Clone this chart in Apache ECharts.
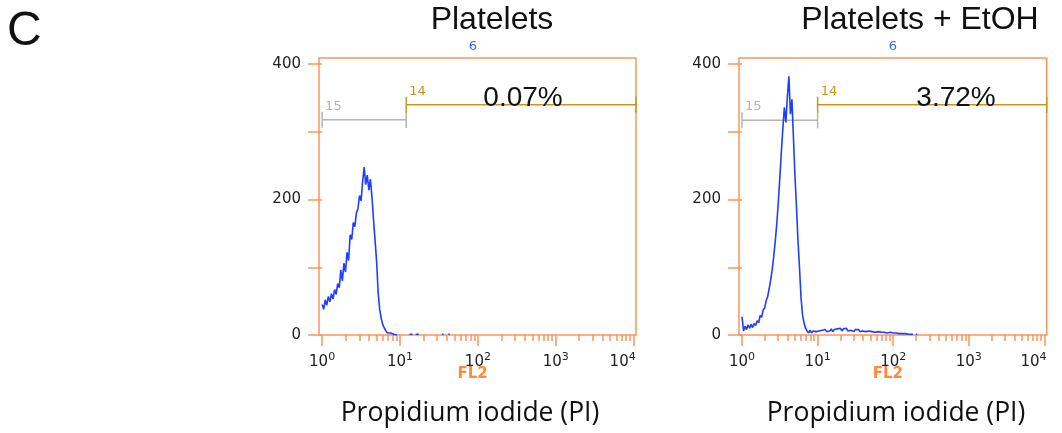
<!DOCTYPE html>
<html><head><meta charset="utf-8">
<script src="https://cdn.jsdelivr.net/npm/echarts@6/dist/echarts.min.js"></script>
<style>html,body{margin:0;padding:0;background:#fff}#c{width:1062px;height:433px}</style>
</head><body><div id="c"></div>
<script>
// ---------- data (x in log10 decades of FL2 intensity, bin step below) ----------
const binStep = 0.02;
const countsPlatelets = [
  45,38,52,44,57,49,61,53,67,60,
  76,70,96,80,106,93,122,110,148,141,
  166,160,180,186,206,198,226,248,222,236,
  214,230,204,170,140,108,62,37,24,15,
  10,6,3,2,3,2,1,1,0,null,
  null,null,null,null,null,null,1,1,1,null,
  1,1,1,null,null,null,null,null,null,null,
  null,null,null,null,null,null,null,1,1,null,
  null,1,1,null
];
const countsEtOH = [
  27,6,13,8,15,10,16,11,17,14,
  21,18,29,26,37,40,51,57,69,82,
  97,117,139,165,196,232,270,305,336,314,
  352,382,326,348,292,236,190,140,100,56,
  30,18,10,6,3,7,3,6,4,5,
  3,6,4,7,5,8,5,7,6,9,
  5,8,6,9,7,10,6,9,7,10,
  6,8,7,9,5,8,6,8,5,7,
  6,8,5,7,6,8,5,7,4,6,
  5,7,4,6,4,5,3,5,4,5,
  3,4,3,4,2,3,2,3,2,2,
  1,2,1,1,null,1,1,null
];
const panelTitles = ['Platelets', 'Platelets + EtOH'];
const percentLabels = ['0.07%', '3.72%'];
const histNumbers = ['6', '6'];
const decadeTicks = [0, 1, 2, 3, 4];
const yTickValues = [0, 100, 200, 300, 400];
const yLabelValues = [0, 200, 400];
const gateLabels = ['15', '14'];
const gatesPlatelets = [[0, 1.08, 318], [1.08, 4.03, 340]];
const gatesEtOH = [[0, 1.0, 317], [1.0, 4.03, 340]];
const xAxisName = 'FL2';
const xTitle = 'Propidium iodide (PI)';
const panelLetter = 'C';

// ---------- styling ----------
const ORANGE = '#ff925a';
const BLUE = '#1f3dff';
const GOLD = '#c8961c';
const GRAY = '#b4b4b4';
const X_MIN = -0.04, X_MAX = 4.03, Y_MAX = 409;

const minorTicks = [];
for (let d = 0; d < 4; d++) for (let k = 2; k <= 9; k++) minorTicks.push(d + Math.log10(k));

const grids = [
  {left: 319, top: 58, width: 317, height: 277, show: true, borderColor: ORANGE, borderWidth: 1.5},
  {left: 739, top: 58, width: 317, height: 277, show: true, borderColor: ORANGE, borderWidth: 1.5}
];

function majorX(gi) {
  return {
    type: 'value', gridIndex: gi, position: 'bottom', min: X_MIN, max: X_MAX,
    axisLine: {show: false}, splitLine: {show: false},
    axisTick: {show: true, length: 11, customValues: decadeTicks, lineStyle: {color: ORANGE, width: 1.5}},
    axisLabel: {
      customValues: decadeTicks, margin: 15,
      formatter: function (v) { return v === 4 ? '{b|10}{s|' + v + '}{e| }' : '{b|10}{s|' + v + '}'; },
      rich: {
        b: {fontFamily: 'DejaVu Sans', fontSize: 15, color: '#222', lineHeight: 20, verticalAlign: 'bottom'},
        s: {fontFamily: 'DejaVu Sans', fontSize: 11, color: '#222', lineHeight: 20, verticalAlign: 'bottom', padding: [0, 0, 7, 0]},
        e: {width: 22, fontSize: 11}
      }
    },
    name: xAxisName, nameLocation: 'middle', nameGap: 32, nameMoveOverlap: false,
    nameTextStyle: {fontFamily: 'DejaVu Sans', fontWeight: 'bold', fontSize: 15, color: '#ff8a3c', padding: [0, 10, 0, 0]}
  };
}
function minorX(gi) {
  return {
    type: 'value', gridIndex: gi, position: 'bottom', offset: 0, min: X_MIN, max: X_MAX,
    axisLine: {show: false}, splitLine: {show: false}, axisLabel: {show: false},
    axisTick: {show: true, length: 6, customValues: minorTicks, lineStyle: {color: ORANGE, width: 1.5}}
  };
}
function yAx(gi) {
  return {
    type: 'value', gridIndex: gi, min: 0, max: Y_MAX,
    axisLine: {show: false}, splitLine: {show: false},
    axisTick: {show: true, length: 14, customValues: yTickValues, lineStyle: {color: ORANGE, width: 1.5}},
    axisLabel: {customValues: yLabelValues, margin: 18, fontFamily: 'DejaVu Sans', fontSize: 15, color: '#222'}
  };
}

function histSeries(counts, xi, yi) {
  return {
    type: 'line', xAxisIndex: xi, yAxisIndex: yi,
    data: counts.map(function (c, i) { return [i * binStep, c]; }),
    showSymbol: false, symbol: 'none', connectNulls: false,
    lineStyle: {color: BLUE, width: 1.6}, z: 5, animation: false
  };
}
function gateSeries(gates, xi, yi) {
  return {
    type: 'custom', xAxisIndex: xi, yAxisIndex: yi, clip: false, z: 4,
    data: gates, encode: {x: [0, 1], y: 2},
    renderItem: function (params, api) {
      const i = params.dataIndex;
      const a = api.coord([api.value(0), api.value(2)]);
      const b = api.coord([api.value(1), api.value(2)]);
      const color = i === 0 ? GRAY : GOLD;
      const ls = {stroke: color, lineWidth: 1.5};
      return {
        type: 'group', children: [
          {type: 'line', shape: {x1: a[0], y1: a[1], x2: b[0], y2: b[1]}, style: ls},
          {type: 'line', shape: {x1: a[0], y1: a[1] - 8, x2: a[0], y2: a[1] + 8}, style: ls},
          {type: 'line', shape: {x1: b[0], y1: b[1] - 8, x2: b[0], y2: b[1] + 8}, style: ls},
          {type: 'text', x: a[0] + 3, y: a[1] - 7,
           style: {text: gateLabels[i], fill: color, font: '13px "DejaVu Sans"', textAlign: 'left', textVerticalAlign: 'bottom'}}
        ]
      };
    }
  };
}

const graphic = [
  {type: 'text', left: 7, top: 8, style: {text: panelLetter, font: '48px "Liberation Sans"', fill: '#111'}},
  {type: 'text', x: 492, y: 20, style: {text: panelTitles[0], font: '32px "Liberation Sans"', fill: '#111', textAlign: 'center', textVerticalAlign: 'middle'}},
  {type: 'text', x: 920, y: 20, style: {text: panelTitles[1], font: '32px "Liberation Sans"', fill: '#111', textAlign: 'center', textVerticalAlign: 'middle'}},
  {type: 'text', x: 523, y: 98, z: 10, style: {text: percentLabels[0], font: '28px "Liberation Sans"', fill: '#111', textAlign: 'center', textVerticalAlign: 'middle'}},
  {type: 'text', x: 956, y: 98, z: 10, style: {text: percentLabels[1], font: '28px "Liberation Sans"', fill: '#111', textAlign: 'center', textVerticalAlign: 'middle'}},
  {type: 'text', x: 473, y: 47, style: {text: histNumbers[0], font: '13px "DejaVu Sans"', fill: '#3a64ff', textAlign: 'center', textVerticalAlign: 'middle'}},
  {type: 'text', x: 893, y: 47, style: {text: histNumbers[1], font: '13px "DejaVu Sans"', fill: '#3a64ff', textAlign: 'center', textVerticalAlign: 'middle'}},
  {type: 'text', x: 470, y: 413, style: {text: xTitle, font: '26.5px "Open Sans"', fill: '#111', textAlign: 'center', textVerticalAlign: 'middle'}},
  {type: 'text', x: 896, y: 413, style: {text: xTitle, font: '26.5px "Open Sans"', fill: '#111', textAlign: 'center', textVerticalAlign: 'middle'}}
];

const chart = echarts.init(document.getElementById('c'), null, {renderer: 'canvas'});
chart.setOption({
  animation: false,
  backgroundColor: '#fff',
  grid: grids,
  xAxis: [majorX(0), minorX(0), majorX(1), minorX(1)],
  yAxis: [yAx(0), yAx(1)],
  series: [
    gateSeries(gatesPlatelets, 0, 0), histSeries(countsPlatelets, 0, 0),
    gateSeries(gatesEtOH, 2, 1), histSeries(countsEtOH, 2, 1)
  ],
  graphic: graphic
});
</script></body></html>
